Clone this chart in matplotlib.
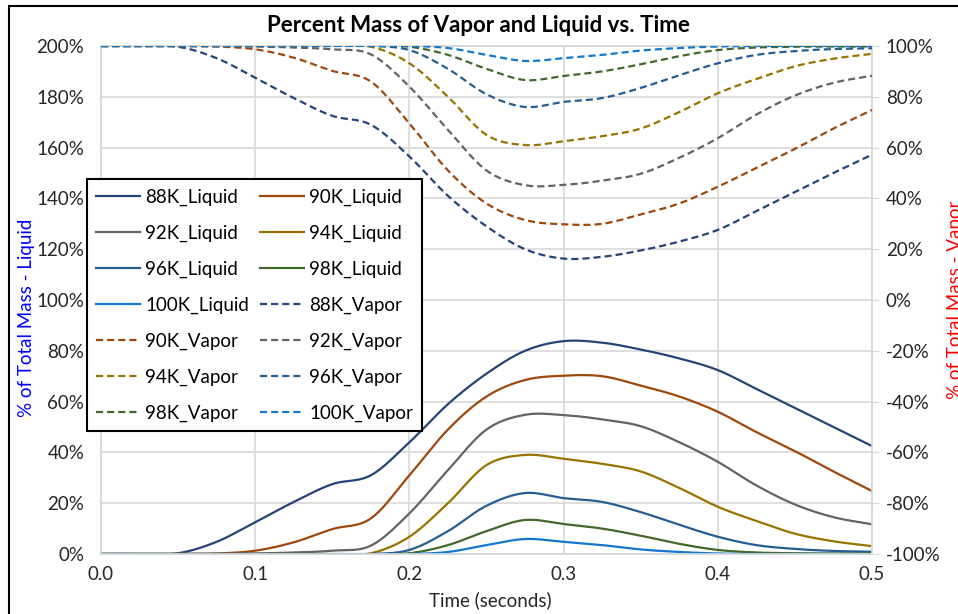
import numpy as np
import matplotlib
matplotlib.use("Agg")
import matplotlib.pyplot as plt
from matplotlib.patches import Rectangle

plt.rcParams["font.family"] = ["Lato", "DejaVu Sans"]

# time (s)
time = [0.0, 0.025, 0.05, 0.075, 0.1, 0.125, 0.15, 0.175, 0.2, 0.225, 0.25,
        0.275, 0.3, 0.325, 0.35, 0.375, 0.4, 0.425, 0.45, 0.475, 0.5]

temps = ["88K", "90K", "92K", "94K", "96K", "98K", "100K"]

# % of total mass that is liquid (left axis)
liq_88 = [0, 0, 0.3, 4.8, 12.5, 20.5, 27.5, 31, 44, 59, 71, 80, 83.8, 83.2, 80.5, 77, 72.4, 65, 57.5, 50, 42.5]
liq_90 = [0, 0, 0, 0.2, 1.3, 4.6, 9.8, 14, 31, 49, 62, 68.5, 70.2, 70, 66.3, 62, 56, 48, 40.5, 32.5, 24.8]
liq_92 = [0, 0, 0, 0, 0.2, 0.6, 1.3, 3.3, 16, 33, 49, 54.8, 54.7, 53, 50.3, 44, 36.3, 27, 19.5, 14.5, 11.7]
liq_94 = [0, 0, 0, 0, 0, 0, 0, 0.3, 6.8, 20, 35, 39, 37.5, 35.5, 32.5, 26, 18.6, 13, 8, 5, 3.1]
liq_96 = [0, 0, 0, 0, 0, 0, 0, 0, 1.6, 9, 19, 24, 22, 20.5, 16.5, 11.5, 6.8, 3.5, 2, 1.2, 0.9]
liq_98 = [0, 0, 0, 0, 0, 0, 0, 0, 0.3, 3.5, 9, 13.4, 11.8, 10, 7.2, 4, 1.6, 0.6, 0.3, 0.2, 0.2]
liq_100 = [0, 0, 0, 0, 0, 0, 0, 0, 0, 0.8, 3.5, 5.9, 4.8, 3.5, 1.8, 0.8, 0.2, 0, 0, 0, 0]

# % of total mass that is vapor (right axis)
vap_88 = [100, 100, 99.7, 95.2, 87.5, 79.5, 72.5, 69, 56.5, 41, 29, 20, 16.3, 17, 19.5, 23, 27.6, 35, 42.5, 50, 57.2]
vap_90 = [100, 100, 100, 99.8, 98.7, 95.4, 90.2, 86, 69.5, 51, 38, 31.5, 29.8, 30, 33.7, 38, 44.6, 52, 59.5, 67.5, 74.8]
vap_92 = [100, 100, 100, 100, 99.8, 99.4, 98.7, 96.7, 84, 67, 51, 45.2, 45.3, 47, 49.7, 56, 63.7, 73, 80.5, 85.5, 88.3]
vap_94 = [100, 100, 100, 100, 100, 100, 100, 99.7, 93.2, 80, 65, 61, 62.5, 64.5, 67.5, 74, 81.4, 87, 92, 95, 96.9]
vap_96 = [100, 100, 100, 100, 100, 100, 100, 100, 98.4, 91, 81, 76, 78, 79.5, 83.5, 88.5, 93.2, 96.5, 98, 98.8, 99.1]
vap_98 = [100, 100, 100, 100, 100, 100, 100, 100, 99.7, 96.5, 91, 86.6, 88.2, 90, 92.8, 96, 98.4, 99.4, 99.7, 99.8, 99.8]
vap_100 = [100, 100, 100, 100, 100, 100, 100, 100, 100, 99.2, 96.5, 94.1, 95.2, 96.5, 98.2, 99.2, 99.8, 100, 100, 100, 100]

liquid = [liq_88, liq_90, liq_92, liq_94, liq_96, liq_98, liq_100]
vapor = [vap_88, vap_90, vap_92, vap_94, vap_96, vap_98, vap_100]
colors = ["#264478", "#9E480E", "#636363", "#997300", "#255E91", "#43682B", "#1478CC"]


def smooth(x, y, n=16):
    # Catmull-Rom curve through the points, like Excel's "smoothed line"
    x = np.asarray(x, float); y = np.asarray(y, float)
    X = np.concatenate([[2 * x[0] - x[1]], x, [2 * x[-1] - x[-2]]])
    Y = np.concatenate([[2 * y[0] - y[1]], y, [2 * y[-1] - y[-2]]])
    s = np.linspace(0, 1, n, endpoint=False)[:, None]
    h00 = 2 * s**3 - 3 * s**2 + 1; h10 = s**3 - 2 * s**2 + s
    h01 = -2 * s**3 + 3 * s**2; h11 = s**3 - s**2
    out = []
    for P in (X, Y):
        p1, p2 = P[1:-2], P[2:-1]
        m1 = (P[2:-1] - P[:-3]) / 2; m2 = (P[3:] - P[1:-2]) / 2
        seg = h00 * p1 + h10 * m1 + h01 * p2 + h11 * m2
        out.append(np.concatenate([seg.T.ravel(), [P[-2]]]))
    return out


fig = plt.figure(figsize=(9.58, 6.14), dpi=100)
ax = fig.add_axes([101 / 958, 1 - 554 / 614, 771 / 958, 508 / 614])
ax2 = ax.twinx()

grid_c = "#d9d9d9"
handles = []
for name, yl, c in zip(temps, liquid, colors):
    xs, ys = smooth(time, yl)
    h, = ax.plot(xs, ys, color=c, lw=1.6, label=f"{name}_Liquid", zorder=3)
    handles.append(h)
for name, yv, c in zip(temps, vapor, colors):
    xs, ys = smooth(time, yv)
    h, = ax2.plot(xs, ys, color=c, lw=1.6, ls=(0, (3.2, 1.8)), label=f"{name}_Vapor", zorder=3)
    handles.append(h)

ax.set_xlim(0, 0.5); ax.set_ylim(0, 200)
ax2.set_ylim(-100, 100)
ax.set_xticks(np.arange(0, 0.51, 0.1))
ax.set_xticklabels([f"{v:.1f}" for v in np.arange(0, 0.51, 0.1)])
ax.set_yticks(np.arange(0, 201, 20))
ax.set_yticklabels([f"{v}%" for v in range(0, 201, 20)])
ax2.set_yticks(np.arange(-100, 101, 20))
ax2.set_yticklabels([f"{v}%" for v in range(-100, 101, 20)])
ax.grid(True, color=grid_c, lw=1.2, zorder=0)
ax.set_axisbelow(True)
for a in (ax, ax2):
    for sp in a.spines.values():
        sp.set_color(grid_c); sp.set_linewidth(1.2)
ax.tick_params(axis="both", length=0, labelsize=13.5, colors="#262626", pad=9)
ax.tick_params(axis="y", pad=12)
ax2.tick_params(axis="y", length=5, color=grid_c, labelsize=13.5, labelcolor="#262626", pad=5)

# legend filled row by row
order = list(range(0, 14, 2)) + list(range(1, 14, 2))
leg = ax2.legend([handles[i] for i in order], [handles[i].get_label() for i in order],
                 ncol=2, loc="upper left", bbox_to_anchor=(87 / 958, 1 - 179 / 614),
                 bbox_transform=fig.transFigure, fontsize=13.5, frameon=True, fancybox=False,
                 edgecolor="black", framealpha=1, handlelength=2.35, handletextpad=0.25,
                 labelspacing=1.0, columnspacing=0.6, borderpad=0.5, borderaxespad=0)
leg.get_frame().set_linewidth(1.5)
leg.set_zorder(10)

fig.text(478 / 958, 1 - 25 / 614, "Percent Mass of Vapor and Liquid vs. Time",
         ha="center", va="center", fontsize=16, fontweight="bold")
fig.text(490 / 958, 1 - 600 / 614, "Time (seconds)", ha="center", va="center", fontsize=13.5,
         color="#262626")
fig.text(27 / 958, 1 - 318 / 614, "% of Total Mass - Liquid", rotation=90, ha="center",
         va="center", fontsize=13.5, color="#0000FF")
fig.text(955 / 958, 1 - 300 / 614, "% of Total Mass - Vapor", rotation=90, ha="center",
         va="center", fontsize=13.5, color="#FF0000")

fig.patches.append(Rectangle((9 / 958, -0.05), 1.1, 1 - 6 / 614 + 0.05, transform=fig.transFigure,
                             fill=False, edgecolor="black", lw=1.5))

fig.savefig("out.png", dpi=100)
